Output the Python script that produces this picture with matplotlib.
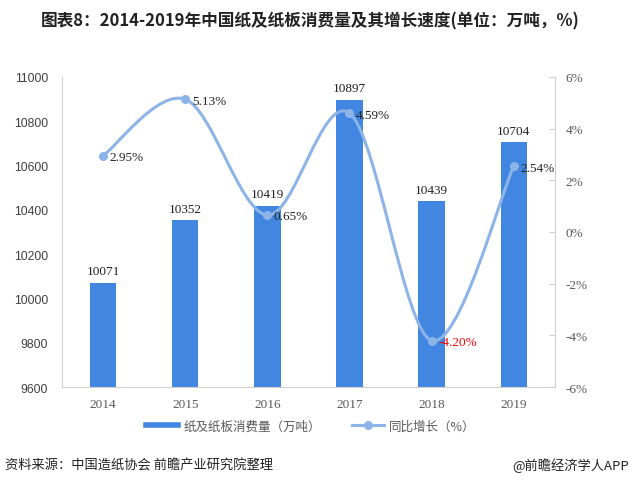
import numpy as np
import matplotlib
matplotlib.use('Agg')
import matplotlib.pyplot as plt
from matplotlib.path import Path
from matplotlib.patches import PathPatch
from matplotlib.lines import Line2D

plt.rcParams['font.family'] = ['Noto Sans CJK SC', 'DejaVu Sans']

years = ['2014', '2015', '2016', '2017', '2018', '2019']
consumption = [10071, 10352, 10419, 10897, 10439, 10704]   # 万吨
growth = [2.95, 5.13, 0.65, 4.59, -4.20, 2.54]             # %
growth_labels = ['2.95%', '5.13%', '0.65%', '4.59%', '-4.20%', '2.54%']

bar_color = '#4186e0'
line_color = '#8db4e8'
num_font = 'Liberation Serif'

fig = plt.figure(figsize=(6.34, 5.02), dpi=100)
ax = fig.add_axes([0.098, 0.227, 0.777, 0.618])
ax2 = ax.twinx()

x = np.arange(len(years))
ax.bar(x, consumption, width=0.32, color=bar_color, zorder=2)
for xi, v in zip(x, consumption):
    ax.text(xi, v + 25, str(v), ha='center', va='bottom', fontsize=9.5,
            family=num_font, color='#222222')

ax.set_ylim(9600, 11000)
ax.set_yticks(np.arange(9600, 11001, 200))
ax.set_xlim(-0.5, len(years) - 0.5)
ax.set_xticks(x)
ax.set_xticklabels(years)

# 平滑曲线（类似Excel的平滑线）
pts = np.column_stack([x, growth]).astype(float)
verts = [tuple(pts[0])]
codes = [Path.MOVETO]
n = len(pts)
for i in range(n - 1):
    p0 = pts[i - 1] if i > 0 else pts[i]
    p1 = pts[i]
    p2 = pts[i + 1]
    p3 = pts[i + 2] if i + 2 < n else pts[i + 1]
    c1 = p1 + (p2 - p0) / 6.0
    c2 = p2 - (p3 - p1) / 6.0
    verts += [tuple(c1), tuple(c2), tuple(p2)]
    codes += [Path.CURVE4, Path.CURVE4, Path.CURVE4]
ax2.add_patch(PathPatch(Path(verts, codes), facecolor='none',
                        edgecolor=line_color, lw=2.2, zorder=3,
                        capstyle='round', joinstyle='round'))
ax2.plot(x, growth, ls='none', marker='o', ms=5.5, color=line_color, zorder=4)

for xi, g, lab in zip(x, growth, growth_labels):
    ax2.text(xi + 0.08, g - 0.05, lab, ha='left', va='center', fontsize=9.5,
             family=num_font, color='red' if g < 0 else '#222222', zorder=5)

ax2.set_ylim(-6, 6)
ax2.set_yticks(np.arange(-6, 7, 2))
ax2.set_yticklabels([f'{v}%' for v in range(-6, 7, 2)])

for a in (ax, ax2):
    for s in a.spines.values():
        s.set_visible(False)
    a.tick_params(labelsize=9.5, colors='#595959', length=0)
for lab in ax.get_xticklabels() + ax2.get_yticklabels():
    lab.set_family(num_font)
for lab in ax.get_yticklabels():
    lab.set_family('Liberation Sans')
    lab.set_fontsize(8.7)
    lab.set_color('#404040')
ax.spines['bottom'].set_visible(True)
ax.spines['bottom'].set_color('#d0d0d0')
ax.spines['left'].set_visible(True)
ax.spines['left'].set_color('#d0d0d0')
ax2.spines['right'].set_visible(True)
ax2.spines['right'].set_color('#d0d0d0')
ax2.tick_params(axis='y', length=4, color='#d0d0d0', direction='in', pad=8)
ax.tick_params(axis='y', pad=10)
ax.tick_params(axis='x', pad=8)

# 图例
handles = [Line2D([0], [0], color=bar_color, lw=4),
           Line2D([0], [0], color=line_color, lw=2.2, marker='o', ms=5.5)]
fig.legend(handles, ['纸及纸板消费量（万吨）', '同比增长（%）'],
           loc='center', bbox_to_anchor=(0.49, 0.149), ncol=2, frameon=False,
           fontsize=9, labelcolor='#595959', handlelength=2.6,
           columnspacing=2.5, handletextpad=0.4)

fig.text(0.49, 0.958, '图表8：2014-2019年中国纸及纸板消费量及其增长速度(单位：万吨，%)',
         ha='center', va='center', fontsize=12, fontweight='bold', color='#222222')
fig.text(0.008, 0.072, '资料来源：中国造纸协会 前瞻产业研究院整理', ha='left', va='center',
         fontsize=9.5, color='#222222')
fig.text(0.992, 0.072, '@前瞻经济学人APP', ha='right', va='center',
         fontsize=9.5, color='#222222')

fig.savefig('out.png', dpi=100)
